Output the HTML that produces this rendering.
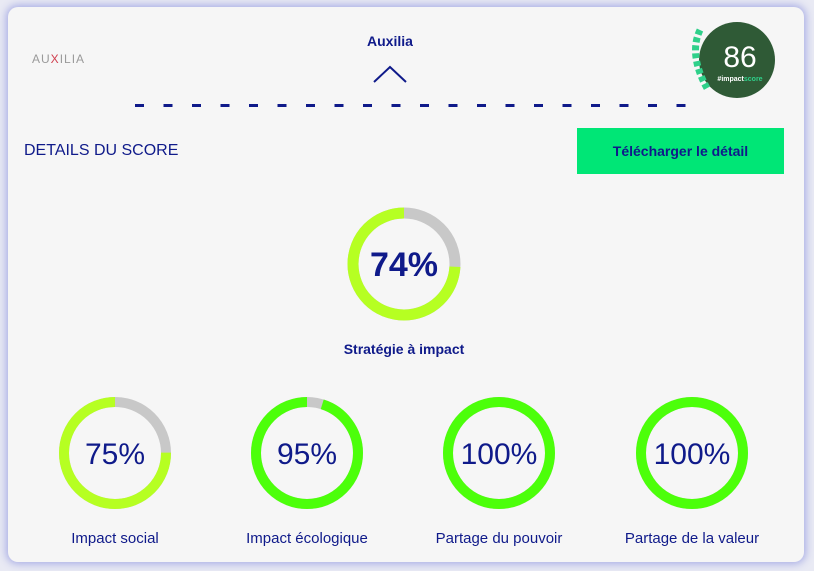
<!DOCTYPE html>
<html><head><meta charset="utf-8"><style>
body{margin:0;width:814px;height:571px;background:#e9eaf4;font-family:"Liberation Sans",sans-serif;position:relative;overflow:hidden}
.card{position:absolute;left:8px;top:7px;width:796px;height:555px;background:#f6f6f6;border-radius:10px;box-shadow:0 0 8px 2px rgba(90,100,210,.45)}
.t{position:absolute;color:#0f1a8a;white-space:nowrap}
</style></head><body>
<div class="card"></div>
<div class="t" style="left:32px;top:52px;font-size:12px;color:#9a9a9a;letter-spacing:1px">AU<span style="color:#d04050">X</span>ILIA</div>
<div class="t" style="left:367px;top:33px;font-size:14px;font-weight:bold">Auxilia</div>
<svg style="position:absolute;left:0;top:0" width="814" height="571">
<polyline points="374,82 390,67 406,82" fill="none" stroke="#0f1a8a" stroke-width="2"/>
<g id="dashes"></g>
<g>
<circle cx="737" cy="60" r="38" fill="#2f5a36"/>
<path d="M700 30 Q688 55 708 90" stroke="#2fd08a" stroke-width="7" fill="none" stroke-dasharray="5 3"/>
<text x="740" y="67" font-size="30" fill="#fff" text-anchor="middle" font-family="Liberation Sans">86</text>
<text x="740" y="81" font-size="7" fill="#fff" font-weight="bold" text-anchor="middle">#impact<tspan fill="#2fd08a">score</tspan></text>
</g>
<g id="rings"></g>
</svg>
<div class="t" style="left:24px;top:142px;font-size:16px">DETAILS DU SCORE</div>
<div style="position:absolute;left:577px;top:128px;width:207px;height:46px;background:#00e676;color:#0f1a8a;font-weight:bold;font-size:14px;display:flex;align-items:center;justify-content:center">Télécharger le détail</div>
<script>
const labels=["Stratégie à impact","Impact social","Impact écologique","Partage du pouvoir","Partage de la valeur"];
const values=[74,75,95,100,100];
const NS="http://www.w3.org/2000/svg";
const d=document.getElementById('dashes');
for(let i=0;i<20;i++){const r=document.createElementNS(NS,'rect');r.setAttribute('x',135+i*28.5);r.setAttribute('y',104);r.setAttribute('width',9);r.setAttribute('height',3);r.setAttribute('fill','#0f1a8a');


d.appendChild(r);}
const g=document.getElementById('rings');
const pos=[[404,264,51,11,34,true],[115,453,51,10,30,false],[307,453,51,10,30,false],[499,453,51,10,30,false],[692,453,51,10,30,false]];
function color(v){return v<90?'#b6ff22':'#4cff0a';}
values.forEach((v,i)=>{
 const [cx,cy,r,sw,fs,main]=pos[i];
 const bg=document.createElementNS(NS,'circle');
 bg.setAttribute('cx',cx);bg.setAttribute('cy',cy);bg.setAttribute('r',r);bg.setAttribute('fill','none');bg.setAttribute('stroke','#c8c8c8');bg.setAttribute('stroke-width',sw);
 
 
 g.appendChild(bg);
 const c=2*Math.PI*r;
 const a=document.createElementNS(NS,'circle');
 a.setAttribute('cx',cx);a.setAttribute('cy',cy);a.setAttribute('r',r);a.setAttribute('fill','none');a.setAttribute('stroke',color(v));a.setAttribute('stroke-width',sw);
 a.setAttribute('stroke-dasharray',(c*v/100)+' '+c);
 a.setAttribute('transform',`translate(${cx} ${cy}) scale(-1 1) rotate(-90) translate(${-cx} ${-cy})`);
 
 
 g.appendChild(a);
 const t=document.createElementNS(NS,'text');
 t.setAttribute('x',cx);t.setAttribute('y',cy+fs*0.36);t.setAttribute('text-anchor','middle');t.setAttribute('font-size',fs);t.setAttribute('fill','#0f1a8a');
 if(main)t.setAttribute('font-weight','bold');
 t.textContent=v+'%';
 
 
 g.appendChild(t);
 const l=document.createElementNS(NS,'text');
 l.setAttribute('x',cx);l.setAttribute('y',main?354:543);l.setAttribute('text-anchor','middle');l.setAttribute('font-size',main?14:15);l.setAttribute('fill','#0f1a8a');
 if(main)l.setAttribute('font-weight','bold');
 l.textContent=labels[i];
 
 
 g.appendChild(l);
});
</script>
</body></html>
